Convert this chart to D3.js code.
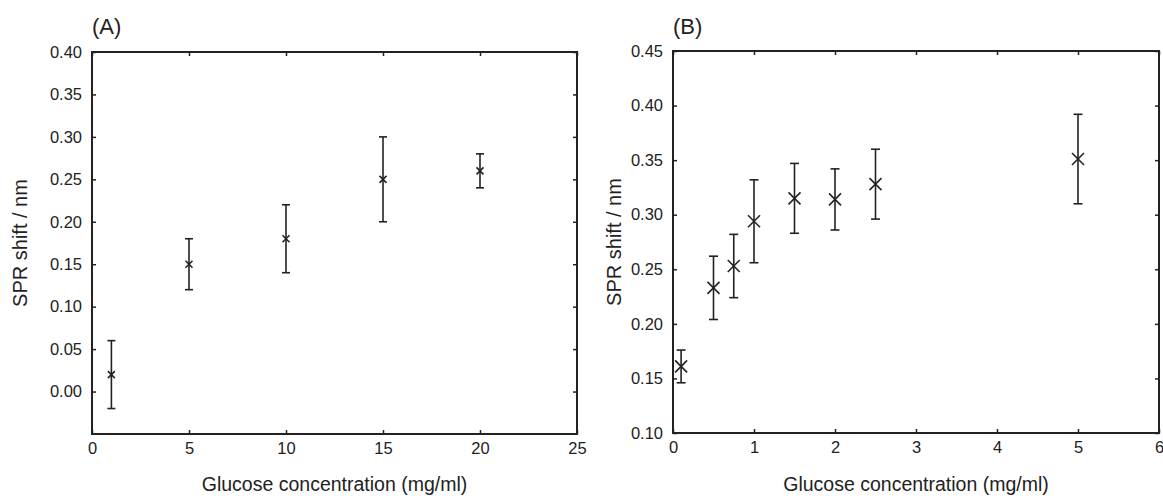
<!DOCTYPE html>
<html>
<head>
<meta charset="utf-8">
<script src="https://cdn.jsdelivr.net/npm/d3@7"></script>
<style>
  body { margin: 0; background: #fff; }
  svg text { font-family: Arial, "Liberation Sans", sans-serif; fill: #222; }
</style>
</head>
<body>
<svg id="chart" width="1163" height="496"></svg>
<script>
// panel A data
const concA = [1, 5, 10, 15, 20];
const shiftA = [0.02, 0.15, 0.18, 0.25, 0.26];
const errA = [0.04, 0.03, 0.04, 0.05, 0.02];
const xTicksA = [0, 5, 10, 15, 20, 25];
const yTicksA = [0.00, 0.05, 0.10, 0.15, 0.20, 0.25, 0.30, 0.35, 0.40];

// panel B data
const concB = [0.1, 0.5, 0.75, 1, 1.5, 2, 2.5, 5];
const shiftB = [0.161, 0.233, 0.253, 0.294, 0.315, 0.314, 0.328, 0.351];
const errB = [0.015, 0.029, 0.029, 0.038, 0.032, 0.028, 0.032, 0.041];
const xTicksB = [0, 1, 2, 3, 4, 5, 6];
const yTicksB = [0.10, 0.15, 0.20, 0.25, 0.30, 0.35, 0.40, 0.45];

const svg = d3.select("svg#chart");
const ink = "#222";
const font = "Arial, 'Liberation Sans', sans-serif";

function drawPanel(opt) {
    const g = svg.append("g");
    const x = d3.scaleLinear().domain(opt.xDomain).range([opt.left, opt.right]);
    const y = d3.scaleLinear().domain(opt.yDomain).range([opt.bottom, opt.top]);
    const tick = 4;

    // ticks on all four sides, pointing in
    const axes = [
        { a: d3.axisBottom(x).tickValues(opt.xTicks).tickFormat(d3.format("d")).tickPadding(8), t: `translate(0,${opt.bottom})` },
        { a: d3.axisTop(x).tickValues(opt.xTicks).tickFormat(""), t: `translate(0,${opt.top})` },
        { a: d3.axisLeft(y).tickValues(opt.yTicks).tickFormat(d3.format(".2f")).tickPadding(10), t: `translate(${opt.left},0)` },
        { a: d3.axisRight(y).tickValues(opt.yTicks).tickFormat(""), t: `translate(${opt.right},0)` }
    ];
    axes.forEach((ax) => {
        const ag = g.append("g").attr("transform", ax.t)
            .call(ax.a.tickSizeInner(-tick).tickSizeOuter(0));
        ag.select(".domain").remove();
        ag.selectAll("line").attr("stroke", ink).attr("stroke-width", 1.5);
        ag.selectAll("text").style("font-size", "16.5px").attr("fill", ink)
            .style("font-family", font);
    });

    // frame
    g.append("rect")
        .attr("x", opt.left).attr("y", opt.top)
        .attr("width", opt.right - opt.left).attr("height", opt.bottom - opt.top)
        .attr("fill", "none").attr("stroke", ink).attr("stroke-width", 2);

    // error bars
    const pts = opt.xs.map((d, i) => ({ x: d, y: opt.ys[i], e: opt.es[i] }));
    const bars = g.selectAll("g.bar").data(pts).join("g").attr("class", "bar")
        .attr("stroke", ink).attr("stroke-width", 1.6);
    bars.append("line")
        .attr("x1", (d) => x(d.x)).attr("x2", (d) => x(d.x))
        .attr("y1", (d) => y(d.y - d.e)).attr("y2", (d) => y(d.y + d.e));
    [-1, 1].forEach((s) => {
        bars.append("line")
            .attr("x1", (d) => x(d.x) - opt.cap).attr("x2", (d) => x(d.x) + opt.cap)
            .attr("y1", (d) => y(d.y + s * d.e)).attr("y2", (d) => y(d.y + s * d.e));
    });
    // cross markers
    [-1, 1].forEach((s) => {
        bars.append("line")
            .attr("x1", (d) => x(d.x) - opt.mk).attr("x2", (d) => x(d.x) + opt.mk)
            .attr("y1", (d) => y(d.y) - s * opt.mk).attr("y2", (d) => y(d.y) + s * opt.mk);
    });

    // labels
    g.append("text").text(opt.title)
        .attr("x", opt.left).attr("y", 34).style("font-size", "22px");
    g.append("text").text("Glucose concentration (mg/ml)")
        .attr("x", (opt.left + opt.right) / 2).attr("y", 491)
        .attr("text-anchor", "middle").style("font-size", "19.5px");
    g.append("text").text("SPR shift / nm")
        .attr("transform", `translate(${opt.yLabelX},${(opt.top + opt.bottom) / 2}) rotate(-90)`)
        .attr("text-anchor", "middle").style("font-size", "20px");
}

drawPanel({
    title: "(A)", left: 92, right: 577, top: 52, bottom: 434,
    xDomain: [0, 25], yDomain: [-0.05, 0.40],
    xTicks: xTicksA, yTicks: yTicksA,
    xs: concA, ys: shiftA, es: errA, cap: 4, mk: 3.5, yLabelX: 27
});
drawPanel({
    title: "(B)", left: 673, right: 1159, top: 51, bottom: 433,
    xDomain: [0, 6], yDomain: [0.10, 0.45],
    xTicks: xTicksB, yTicks: yTicksB,
    xs: concB, ys: shiftB, es: errB, cap: 4.5, mk: 6, yLabelX: 621
});
</script>
</body>
</html>
